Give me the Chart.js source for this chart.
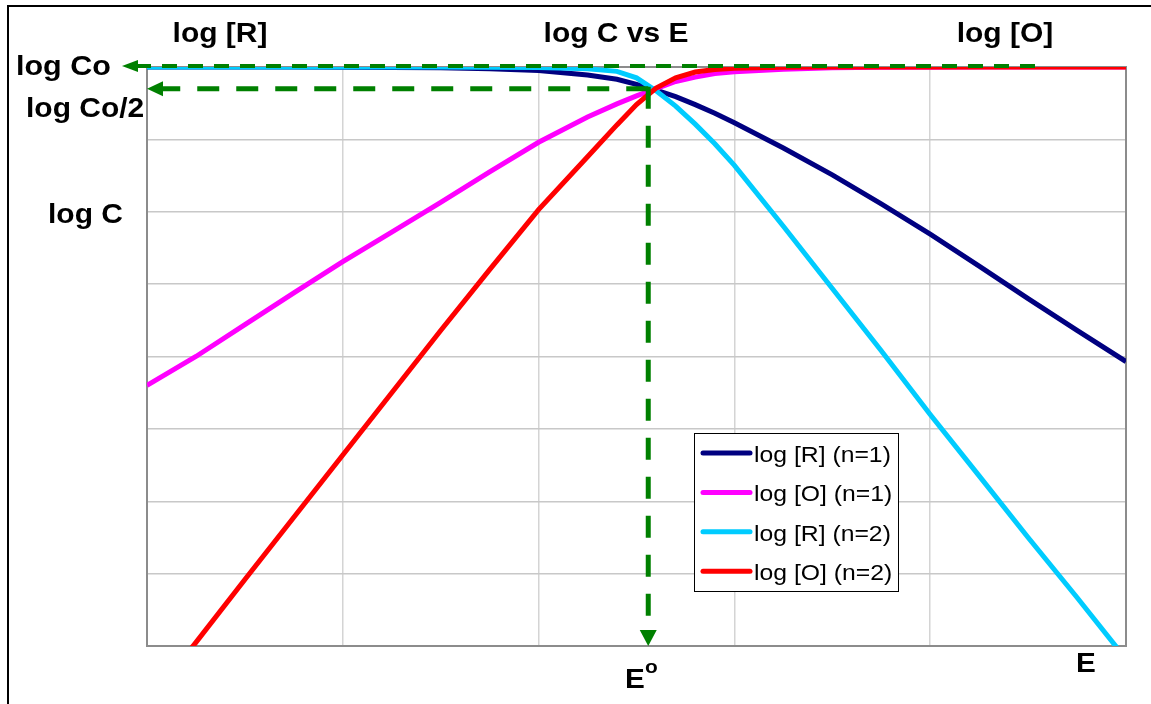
<!DOCTYPE html>
<html>
<head>
<meta charset="utf-8">
<script src="https://cdn.jsdelivr.net/npm/chart.js@4.4.1/dist/chart.umd.min.js"></script>
<style>
  body { margin: 0; background: #fff; }
  #wrap { width: 1151px; height: 704px; }
</style>
</head>
<body>
<div id="wrap"><canvas id="myChart" width="1151" height="704"></canvas></div>
<script>
// E axis (arbitrary units, grid every 1)
const eValues = [0, 0.25, 0.5, 0.75, 1, 1.25, 1.5, 1.75, 2, 2.25, 2.4, 2.5, 2.6, 2.7, 2.8, 2.9, 3, 3.25, 3.5, 3.75, 4, 4.25, 4.5, 4.75, 5];

// log C relative to log Co (top = 0, bottom = -8)
const logR_n1 = [0, 0, 0, -0.001, -0.003, -0.006, -0.012, -0.025, -0.05, -0.11, -0.17, -0.24, -0.32, -0.41, -0.52, -0.64, -0.77, -1.12, -1.49, -1.89, -2.31, -2.75, -3.2, -3.64, -4.07];
const logO_n1 = [-4.4, -4.0, -3.56, -3.12, -2.69, -2.28, -1.87, -1.45, -1.04, -0.69, -0.51, -0.4, -0.3, -0.2, -0.14, -0.09, -0.065, -0.03, -0.012, -0.005, -0.002, 0, 0, 0, 0];
const logR_n2 = [0, 0, 0, 0, 0, 0, 0, -0.002, -0.006, -0.025, -0.06, -0.15, -0.33, -0.54, -0.79, -1.06, -1.36, -2.2, -3.06, -3.92, -4.8, -5.65, -6.5, -7.33, -8.18];
const logO_n2 = [-8.8, -7.95, -7.08, -6.22, -5.36, -4.5, -3.64, -2.8, -1.97, -1.24, -0.8, -0.52, -0.29, -0.15, -0.07, -0.035, -0.018, -0.004, 0, 0, 0, 0, 0, 0, 0];

const seriesLabels = ['log [R] (n=1)', 'log [O] (n=1)', 'log [R] (n=2)', 'log [O] (n=2)'];
const seriesColors = ['#000080', '#FF00FF', '#00CCFF', '#FF0000'];

// marker levels
const logCo = 0;
const logCoHalf = -0.30;
const eZero = 2.56;
const topArrowEnd = 4.57;

const FONT = '"Liberation Sans", Arial, sans-serif';

function pts(arr) {
    return eValues.map((e, i) => ({ x: e, y: arr[i] }));
}

const seriesData = [logR_n1, logO_n1, logR_n2, logO_n2];
const datasets = seriesData.map((arr, i) => ({
    label: seriesLabels[i],
    data: pts(arr),
    borderColor: seriesColors[i],
    backgroundColor: seriesColors[i],
    borderWidth: 5,
    pointRadius: 0,
    tension: 0,
    order: 4 - i // red drawn on top
}));

function stretchText(ctx, s, x, y, font, sx, align) {
    ctx.save();
    ctx.translate(x, y);
    ctx.scale(sx, 1);
    ctx.font = font;
    ctx.textAlign = align || 'left';
    ctx.textBaseline = 'alphabetic';
    ctx.fillStyle = '#000';
    ctx.fillText(s, 0, 0);
    ctx.restore();
}

function arrowHead(ctx, tx, ty, dir, len, half) {
    ctx.beginPath();
    if (dir === 'left') {
        ctx.moveTo(tx, ty);
        ctx.lineTo(tx + len, ty - half);
        ctx.lineTo(tx + len, ty + half);
    } else {
        ctx.moveTo(tx, ty);
        ctx.lineTo(tx - half, ty - len);
        ctx.lineTo(tx + half, ty - len);
    }
    ctx.closePath();
    ctx.fill();
}

const decor = {
    id: 'decor',
    beforeDatasetsDraw(chart) {
        const { ctx, chartArea: a } = chart;
        ctx.save();
        ctx.strokeStyle = '#8c8c8c';
        ctx.lineWidth = 2;
        ctx.strokeRect(a.left, a.top, a.right - a.left, a.bottom - a.top);
        ctx.restore();
    },
    afterDatasetsDraw(chart) {
        const { ctx, chartArea: a, scales: { x, y } } = chart;
        const green = '#008000';
        ctx.save();
        ctx.strokeStyle = green;
        ctx.fillStyle = green;

        // log Co line
        const y0 = y.getPixelForValue(logCo) - 1;
        const tip0 = a.left - 25;
        ctx.lineWidth = 4;
        ctx.setLineDash([15, 11]);
        ctx.beginPath();
        ctx.moveTo(tip0 + 14, y0);
        ctx.lineTo(x.getPixelForValue(topArrowEnd), y0);
        ctx.stroke();
        ctx.setLineDash([]);
        arrowHead(ctx, tip0, y0, 'left', 16, 6);

        // log Co/2 line
        const yh = y.getPixelForValue(logCoHalf);
        const xe = x.getPixelForValue(eZero);
        ctx.lineWidth = 5;
        ctx.setLineDash([22, 17]);
        ctx.beginPath();
        ctx.moveTo(xe, yh);
        ctx.lineTo(a.left + 14, yh);
        ctx.stroke();
        ctx.setLineDash([]);
        arrowHead(ctx, a.left, yh, 'left', 16, 7.5);

        // E° line
        ctx.setLineDash([22, 17]);
        ctx.beginPath();
        ctx.moveTo(xe, yh - 2);
        ctx.lineTo(xe, a.bottom - 14);
        ctx.stroke();
        ctx.setLineDash([]);
        arrowHead(ctx, xe, a.bottom, 'down', 16, 8.5);
        ctx.restore();
    },
    afterDraw(chart) {
        const { ctx, chartArea: a } = chart;
        ctx.save();
        // outer frame (top + left)
        ctx.fillStyle = '#000';
        ctx.fillRect(7, 5, 1151, 2);
        ctx.fillRect(7, 5, 2, 704);

        const big = 'bold 27px ' + FONT;
        stretchText(ctx, 'log [R]', 220, 42, big, 1.11, 'center');
        stretchText(ctx, 'log C vs E', 616, 42, big, 1.11, 'center');
        stretchText(ctx, 'log [O]', 1005, 42, big, 1.11, 'center');
        stretchText(ctx, 'log Co', 16, 75, big, 1.13, 'left');
        stretchText(ctx, 'log Co/2', 26, 117, big, 1.11, 'left');
        stretchText(ctx, 'log C', 48, 223, big, 1.11, 'left');
        stretchText(ctx, 'E', 625, 688, big, 1.1, 'left');
        stretchText(ctx, 'o', 645, 673, 'bold 19px ' + FONT, 1.1, 'left');
        stretchText(ctx, 'E', 1076, 672, big, 1.1, 'left');

        // legend box
        const lx = a.left + 547, ly = a.top + 366, lw = 204, lh = 158;
        ctx.fillStyle = '#fff';
        ctx.fillRect(lx, ly, lw, lh);
        ctx.strokeStyle = '#000';
        ctx.lineWidth = 1;
        ctx.strokeRect(lx + 0.5, ly + 0.5, lw, lh);
        seriesLabels.forEach((lab, i) => {
            const ry = ly + 20 + i * 39.4;
            ctx.strokeStyle = seriesColors[i];
            ctx.lineWidth = 5;
            ctx.lineCap = 'round';
            ctx.beginPath();
            ctx.moveTo(lx + 9, ry);
            ctx.lineTo(lx + 56, ry);
            ctx.stroke();
            stretchText(ctx, lab, lx + 60, ry + 9, '22.5px ' + FONT, 1.1, 'left');
        });
        ctx.restore();
    }
};

const ctx_chart = document.getElementById('myChart').getContext('2d');
const myChart = new Chart(ctx_chart, {
    type: 'line',
    data: { datasets: datasets },
    options: {
        responsive: false,
        animation: false,
        maintainAspectRatio: false,
        layout: { padding: { left: 147, right: 25, top: 67, bottom: 58 } },
        plugins: { legend: { display: false }, tooltip: { enabled: false } },
        scales: {
            x: {
                type: 'linear', min: 0, max: 5,
                ticks: { display: false, stepSize: 1 },
                grid: { color: '#d4d4d4', lineWidth: 1.5, drawTicks: false },
                border: { display: false }
            },
            y: {
                type: 'linear', min: -8, max: 0,
                ticks: { display: false, stepSize: 1 },
                grid: { color: '#c8c8c8', lineWidth: 1.5, drawTicks: false },
                border: { display: false }
            }
        }
    },
    plugins: [decor]
});
</script>
</body>
</html>
